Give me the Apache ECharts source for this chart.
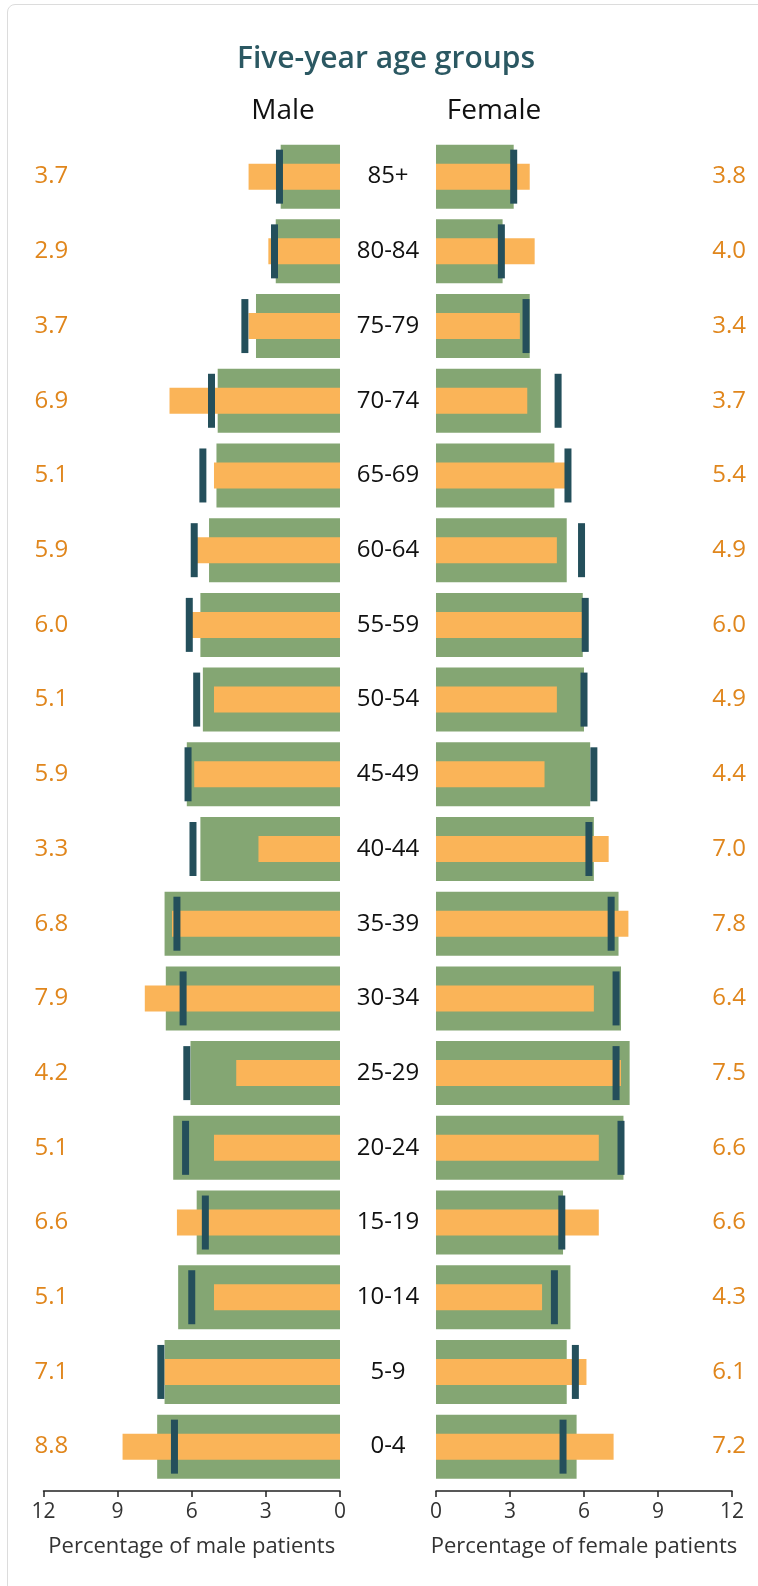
<!DOCTYPE html>
<html>
<head>
<meta charset="utf-8">
<script src="https://cdn.jsdelivr.net/npm/echarts@6/dist/echarts.min.js"></script>
<style>
  html, body { margin: 0; padding: 0; background: #fff; }
  #wrap { position: relative; width: 758px; height: 1586px; overflow: hidden; }
  #card { position: absolute; left: 7px; top: 4px; width: 800px; height: 1640px; border: 1px solid #dcdcdc; border-radius: 8px; box-sizing: border-box; }
  #chart { position: absolute; left: 0; top: 0; width: 758px; height: 1586px; }
</style>
</head>
<body>
<div id="wrap">
  <div id="card"></div>
  <div id="chart"></div>
</div>
<script>
// Age groups, top to bottom
const categories = ['85+','80-84','75-79','70-74','65-69','60-64','55-59','50-54','45-49','40-44','35-39','30-34','25-29','20-24','15-19','10-14','5-9','0-4'];

// Male (percentages)
const maleGreen  = [2.4, 2.6, 3.4, 4.95, 5.0, 5.3, 5.65, 5.55, 6.2, 5.65, 7.1, 7.05, 6.05, 6.75, 5.8, 6.55, 7.1, 7.4];
const maleOrange = [3.7, 2.9, 3.7, 6.9, 5.1, 5.9, 6.0, 5.1, 5.9, 3.3, 6.8, 7.9, 4.2, 5.1, 6.6, 5.1, 7.1, 8.8];
const maleMarker = [2.45, 2.65, 3.85, 5.2, 5.55, 5.9, 6.1, 5.8, 6.15, 5.95, 6.6, 6.35, 6.2, 6.25, 5.45, 6.0, 7.25, 6.7];

// Female (percentages)
const femaleGreen  = [3.15, 2.7, 3.8, 4.25, 4.8, 5.3, 5.95, 6.0, 6.25, 6.4, 7.4, 7.5, 7.85, 7.6, 5.15, 5.45, 5.3, 5.7];
const femaleOrange = [3.8, 4.0, 3.4, 3.7, 5.4, 4.9, 6.0, 4.9, 4.4, 7.0, 7.8, 6.4, 7.5, 6.6, 6.6, 4.3, 6.1, 7.2];
const femaleMarker = [3.15, 2.65, 3.65, 4.95, 5.35, 5.9, 6.05, 6.0, 6.4, 6.2, 7.1, 7.3, 7.3, 7.5, 5.1, 4.8, 5.65, 5.15];

const axisTicks = [0, 3, 6, 9, 12];

const GREEN = '#84a673', ORANGE = '#fab458', MARK = '#244f5b', ORANGE_TXT = '#e0861c', TITLE = '#2b5862';
const FONT = '"Open Sans", "Noto Sans", sans-serif';

const chart = echarts.init(document.getElementById('chart'), null, { renderer: 'canvas' });

function valueAxis(grid, inverse, name) {
  return {
    type: 'value', gridIndex: grid, min: axisTicks[0], max: axisTicks[axisTicks.length - 1], interval: 3,
    inverse: inverse, offset: 7,
    axisLine: { show: true, lineStyle: { color: '#222', width: 1.5 } },
    axisTick: { show: true, length: 6, lineStyle: { color: '#222', width: 1.5 } },
    splitLine: { show: false },
    axisLabel: { color: '#333', fontSize: 21, fontFamily: FONT, margin: 11 },
    name: name, nameLocation: 'middle', nameGap: 45,
    nameTextStyle: { color: '#333', fontSize: 22, fontFamily: FONT }
  };
}

function catAxis(grid, position, extra) {
  return Object.assign({
    type: 'category', gridIndex: grid, data: categories, inverse: true, position: position,
    axisLine: { show: false }, axisTick: { show: false }, splitLine: { show: false }
  }, extra);
}

const option = {
  animation: false,
  backgroundColor: 'transparent',
  grid: [
    { left: 43.5, right: 418, top: 139.3, height: 1344.7 },
    { left: 436, right: 26, top: 139.3, height: 1344.7 }
  ],
  xAxis: [
    valueAxis(0, true, 'Percentage of male patients'),
    valueAxis(1, false, 'Percentage of female patients')
  ],
  yAxis: [
    catAxis(0, 'left', { axisLabel: { align: 'left', margin: 9, color: ORANGE_TXT, fontSize: 24, fontFamily: FONT,
      formatter: (v, i) => maleOrange[i].toFixed(1) } }),
    catAxis(0, 'right', { axisLabel: { align: 'center', margin: 48, color: '#111', fontSize: 24, fontFamily: FONT } }),
    catAxis(1, 'right', { axisLabel: { align: 'right', margin: 14, color: ORANGE_TXT, fontSize: 24, fontFamily: FONT,
      formatter: (v, i) => femaleOrange[i].toFixed(1) } }),
    catAxis(1, 'left', { axisLabel: { show: false } })
  ],
  graphic: [
    { type: 'text', x: 386, y: 59, style: { text: 'Five-year age groups', fill: TITLE, font: '600 30px ' + FONT, textAlign: 'center', textVerticalAlign: 'middle' } },
    { type: 'text', x: 283, y: 111, style: { text: 'Male', fill: '#111', font: '28px ' + FONT, textAlign: 'center', textVerticalAlign: 'middle' } },
    { type: 'text', x: 494, y: 111, style: { text: 'Female', fill: '#111', font: '28px ' + FONT, textAlign: 'center', textVerticalAlign: 'middle' } }
  ],
  series: [
    { type: 'bar', xAxisIndex: 0, yAxisIndex: 0, data: maleGreen, barWidth: 64, itemStyle: { color: GREEN }, z: 1 },
    { type: 'bar', xAxisIndex: 0, yAxisIndex: 1, data: maleOrange, barWidth: 26, itemStyle: { color: ORANGE }, z: 2 },
    { type: 'scatter', xAxisIndex: 0, yAxisIndex: 0, data: maleMarker.map((v, i) => [v, categories[i]]), symbol: 'rect', symbolSize: [7, 54], itemStyle: { color: MARK, opacity: 1 }, z: 3 },
    { type: 'bar', xAxisIndex: 1, yAxisIndex: 2, data: femaleGreen, barWidth: 64, itemStyle: { color: GREEN }, z: 1 },
    { type: 'bar', xAxisIndex: 1, yAxisIndex: 3, data: femaleOrange, barWidth: 26, itemStyle: { color: ORANGE }, z: 2 },
    { type: 'scatter', xAxisIndex: 1, yAxisIndex: 2, data: femaleMarker.map((v, i) => [v, categories[i]]), symbol: 'rect', symbolSize: [7, 54], itemStyle: { color: MARK, opacity: 1 }, z: 3 }
  ]
};
chart.setOption(option);
</script>
</body>
</html>
